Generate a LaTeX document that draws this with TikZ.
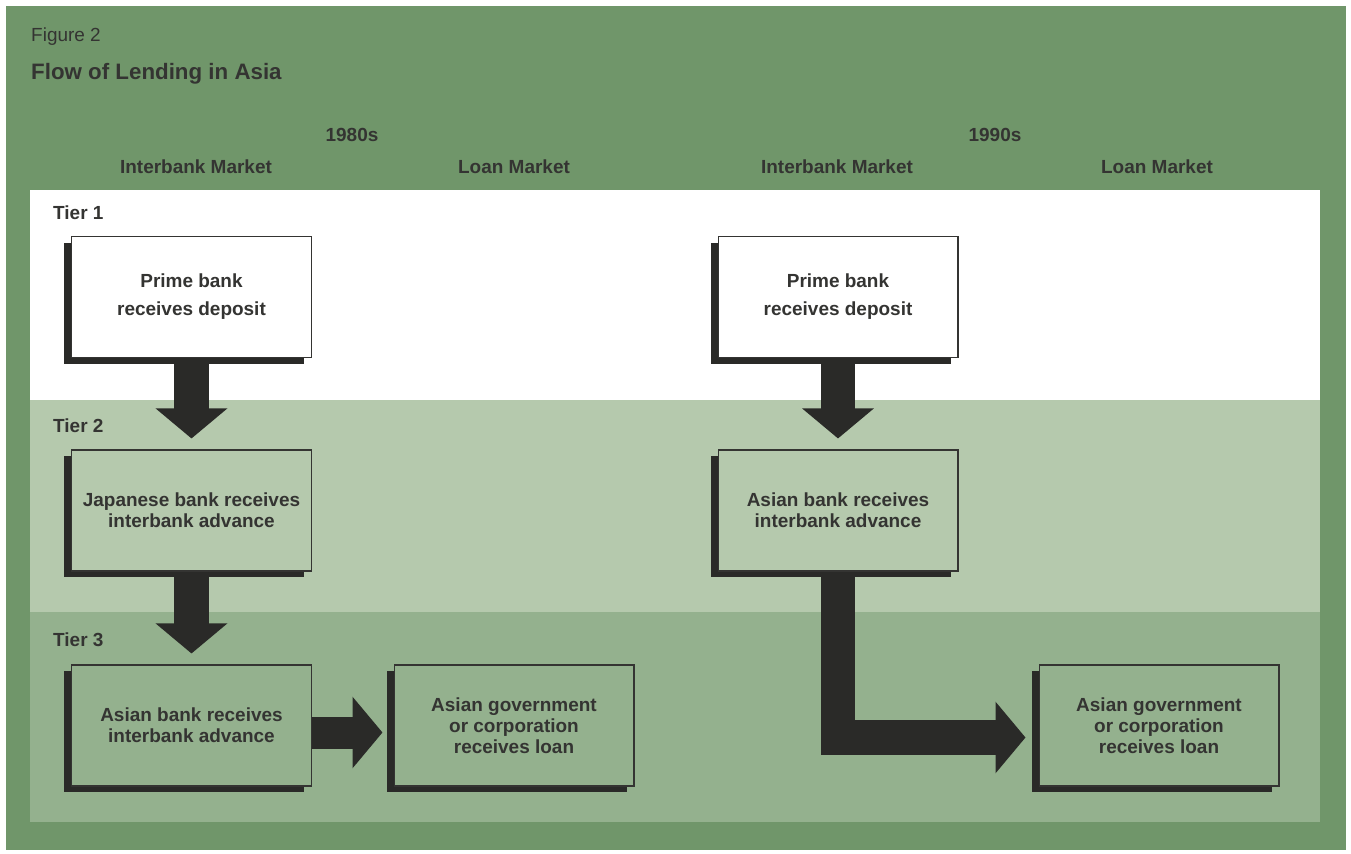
\documentclass[tikz,border=0pt]{standalone}
\usepackage{fontspec}
\setmainfont{Liberation Sans}
\usetikzlibrary{arrows.meta, positioning, shadows}
\definecolor{outergreen}{RGB}{112,150,106}
\definecolor{tiertwo}{RGB}{181,201,173}
\definecolor{tierthree}{RGB}{148,177,142}
\definecolor{inkgray}{RGB}{52,52,50}
\definecolor{shadowgray}{RGB}{42,42,40}
\tikzstyle{box} = [rectangle, 
minimum width=4.8cm, 
minimum height=2.42cm,
align=center, 
draw=inkgray, line width=0.6pt,
font=\fontsize{10.8}{12}\selectfont\bfseries,
drop shadow={shadow xshift=-4pt, shadow yshift=-3.5pt, opacity=1, fill=shadowgray}]
\tikzstyle{fat} = [line width=0.69cm, draw=shadowgray, -{Triangle[width=1.4cm, length=0.6cm]}, shorten >=0.22cm]
\tikzstyle{head} = [font=\fontsize{10.8}{12}\selectfont\bfseries]

\begin{document}
\begin{tikzpicture} [x=0.02cm, y=-0.02cm, every node/.style={text=inkgray}]
		
		% Canvas and background bands
		\useasboundingbox (0,0) rectangle (1351,854);
		\fill[outergreen] (6,6) rectangle (1346,850);
		\fill[white] (30,190) rectangle (1320,400);
		\fill[tiertwo] (30,400) rectangle (1320,612);
		\fill[tierthree] (30,612) rectangle (1320,822);
		
		% Title
		\node[anchor=west, font=\fontsize{10.8}{12}\selectfont] (fig) at (25,37) {Figure 2};
		\node[anchor=west, font=\fontsize{12.7}{14}\selectfont\bfseries] (title) at (25,74) {Flow of Lending in Asia};
		
		% Decade and market headings
		\node[head] (d80) at (352,135) {1980s};
		\node[head] (d90) at (995,135) {1990s};
		\foreach \x/\lbl [count=\i] in {196/Interbank Market, 514/Loan Market, 837/Interbank Market, 1157/Loan Market}
			\node[head] (mkt\i) at (\x,167) {\lbl};
		
		% Tier labels
		\foreach \t/\y in {1/213, 2/426, 3/640}
			\node[head, anchor=west] (tier\t) at (47,\y) {Tier \t};
		
		% 1980s boxes
		\node[box, fill=white] (pb80) at (191.5,297) {Prime bank\\[4pt] receives deposit};
		\node[box, fill=tiertwo] (jb80) at (191.5,510.5) {Japanese bank receives\\ interbank advance};
		\node[box, fill=tierthree] (ab80) at (191.5,725.5) {Asian bank receives\\ interbank advance};
		\node[box, fill=tierthree] (loan80) at (514,725.5) {Asian government\\ or corporation\\ receives loan};
		
		% 1990s boxes
		\node[box, fill=white] (pb90) at (838,297) {Prime bank\\[4pt] receives deposit};
		\node[box, fill=tiertwo] (ab90) at (838,510.5) {Asian bank receives\\ interbank advance};
		\node[box, fill=tierthree] (loan90) at (1159,725.5) {Asian government\\ or corporation\\ receives loan};
		
		% Flow arrows
		\draw[fat] (pb80) -- (jb80);
		\draw[fat] (jb80) -- (ab80);
		\draw[fat, line width=0.64cm] ([yshift=-0.14cm]ab80.east) -- ([yshift=-0.14cm]loan80.west);
		\draw[fat] (pb90) -- (ab90);
		\draw[fat, shorten >=0.26cm] (ab90) |- ([yshift=-0.24cm]loan90.west);
		
	\end{tikzpicture}
\end{document}
